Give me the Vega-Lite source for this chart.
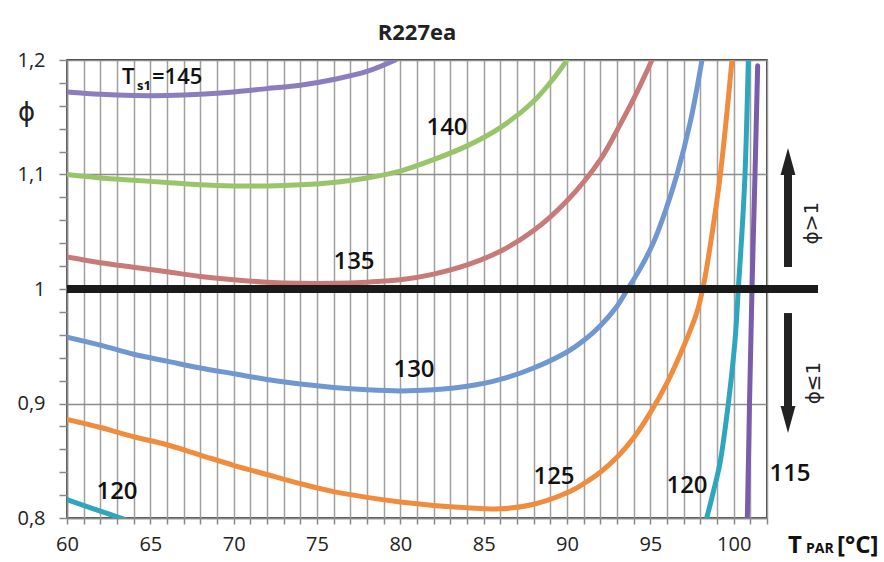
{
  "$schema": "https://vega.github.io/schema/vega-lite/v6.json",
  "width": 700,
  "height": 458,
  "autosize": {"type": "none"},
  "padding": {"left": 67, "top": 60, "right": 117, "bottom": 44},
  "background": "white",
  "config": {"view": {"stroke": "#000", "strokeWidth": 1.5}, "font": "Open Sans, DejaVu Sans"},
  "title": {"text": "R227ea", "fontSize": 22, "fontWeight": "bold", "color": "#222", "anchor": "middle", "baseline": "alphabetic", "offset": 18, "dy": 30, "frame": "group", "font": "Open Sans"},
  "datasets": {
    "curves": [
      {"s":"145","x":60,"y":1.172},{"s":"145","x":62,"y":1.170},{"s":"145","x":64,"y":1.169},{"s":"145","x":66,"y":1.169},{"s":"145","x":68,"y":1.170},{"s":"145","x":70,"y":1.172},{"s":"145","x":72,"y":1.175},{"s":"145","x":74,"y":1.178},{"s":"145","x":76,"y":1.183},{"s":"145","x":78,"y":1.190},{"s":"145","x":79.7,"y":1.2},
      {"s":"140","x":60,"y":1.100},{"s":"140","x":62,"y":1.097},{"s":"140","x":64,"y":1.095},{"s":"140","x":66,"y":1.093},{"s":"140","x":68,"y":1.091},{"s":"140","x":70,"y":1.090},{"s":"140","x":72,"y":1.090},{"s":"140","x":74,"y":1.091},{"s":"140","x":76,"y":1.093},{"s":"140","x":78,"y":1.097},{"s":"140","x":80,"y":1.103},{"s":"140","x":82,"y":1.113},{"s":"140","x":84,"y":1.125},{"s":"140","x":86,"y":1.141},{"s":"140","x":88,"y":1.164},{"s":"140","x":89.2,"y":1.184},{"s":"140","x":90,"y":1.2},
      {"s":"135","x":60,"y":1.028},{"s":"135","x":62,"y":1.023},{"s":"135","x":64,"y":1.019},{"s":"135","x":66,"y":1.015},{"s":"135","x":68,"y":1.011},{"s":"135","x":70,"y":1.008},{"s":"135","x":72,"y":1.006},{"s":"135","x":74,"y":1.005},{"s":"135","x":76,"y":1.005},{"s":"135","x":78,"y":1.006},{"s":"135","x":80,"y":1.008},{"s":"135","x":82,"y":1.013},{"s":"135","x":84,"y":1.021},{"s":"135","x":86,"y":1.033},{"s":"135","x":88,"y":1.051},{"s":"135","x":90,"y":1.077},{"s":"135","x":92,"y":1.113},{"s":"135","x":93.2,"y":1.144},{"s":"135","x":94.2,"y":1.172},{"s":"135","x":95.1,"y":1.2},
      {"s":"130","x":60,"y":0.958},{"s":"130","x":62,"y":0.951},{"s":"130","x":64,"y":0.943},{"s":"130","x":66,"y":0.937},{"s":"130","x":68,"y":0.931},{"s":"130","x":70,"y":0.926},{"s":"130","x":72,"y":0.921},{"s":"130","x":74,"y":0.917},{"s":"130","x":76,"y":0.914},{"s":"130","x":78,"y":0.912},{"s":"130","x":80,"y":0.911},{"s":"130","x":82,"y":0.912},{"s":"130","x":84,"y":0.915},{"s":"130","x":86,"y":0.921},{"s":"130","x":88,"y":0.931},{"s":"130","x":90,"y":0.945},{"s":"130","x":91,"y":0.955},{"s":"130","x":92,"y":0.968},{"s":"130","x":93,"y":0.985},{"s":"130","x":93.6,"y":0.999},{"s":"130","x":94.4,"y":1.018},{"s":"130","x":95.2,"y":1.041},{"s":"130","x":95.9,"y":1.068},{"s":"130","x":96.6,"y":1.100},{"s":"130","x":97.4,"y":1.146},{"s":"130","x":98.1,"y":1.2},
      {"s":"125","x":60,"y":0.886},{"s":"125","x":62,"y":0.879},{"s":"125","x":64,"y":0.871},{"s":"125","x":66,"y":0.864},{"s":"125","x":68,"y":0.855},{"s":"125","x":70,"y":0.846},{"s":"125","x":72,"y":0.838},{"s":"125","x":74,"y":0.830},{"s":"125","x":76,"y":0.823},{"s":"125","x":78,"y":0.818},{"s":"125","x":80,"y":0.814},{"s":"125","x":82,"y":0.811},{"s":"125","x":84,"y":0.809},{"s":"125","x":86,"y":0.808},{"s":"125","x":88,"y":0.812},{"s":"125","x":90,"y":0.822},{"s":"125","x":91,"y":0.830},{"s":"125","x":92,"y":0.840},{"s":"125","x":93,"y":0.853},{"s":"125","x":94,"y":0.870},{"s":"125","x":95,"y":0.892},{"s":"125","x":96,"y":0.918},{"s":"125","x":97,"y":0.950},{"s":"125","x":97.8,"y":0.980},{"s":"125","x":98.2,"y":1.004},{"s":"125","x":98.7,"y":1.048},{"s":"125","x":99.2,"y":1.100},{"s":"125","x":99.9,"y":1.2},
      {"s":"120","x":60,"y":0.816},{"s":"120","x":61,"y":0.811},{"s":"120","x":62,"y":0.806},{"s":"120","x":63,"y":0.801},{"s":"120","x":64,"y":0.796},{"s":"120","x":66,"y":0.786},{"s":"120","x":97.6,"y":0.762},{"s":"120","x":98.38,"y":0.800},{"s":"120","x":98.8,"y":0.824},{"s":"120","x":99.18,"y":0.848},{"s":"120","x":99.68,"y":0.900},{"s":"120","x":100.08,"y":0.955},{"s":"120","x":100.3,"y":1.005},{"s":"120","x":100.5,"y":1.05},{"s":"120","x":100.68,"y":1.10},{"s":"120","x":100.88,"y":1.2},
      {"s":"115","x":100.7,"y":0.75},{"s":"115","x":100.82,"y":0.800},{"s":"115","x":100.95,"y":0.900},{"s":"115","x":101.1,"y":1.000},{"s":"115","x":101.28,"y":1.100},{"s":"115","x":101.44,"y":1.195}
    ]
  },
  "encoding": {
    "x": {"field": "x", "type": "quantitative", "scale": {"domain": [60, 102], "nice": false, "zero": false},
      "axis": {"title": null, "values": [60,61,62,63,64,65,66,67,68,69,70,71,72,73,74,75,76,77,78,79,80,81,82,83,84,85,86,87,88,89,90,91,92,93,94,95,96,97,98,99,100,101,102],
        "labelExpr": "datum.value % 5 == 0 && datum.value <= 100 ? datum.value : ''",
        "labelOverlap": false, "labelBound": false, "labelFlush": false,
        "labelFontSize": 20, "labelColor": "#222", "labelFont": "Open Sans", "labelPadding": 10,
        "tickSize": 6, "tickColor": "#888", "tickWidth": 1.5,
        "domainColor": "#888", "domainWidth": 1.5,
        "grid": true, "gridColor": "#a0a0a0", "gridWidth": 1.5}},
    "y": {"field": "y", "type": "quantitative", "scale": {"domain": [0.8, 1.2], "nice": false, "zero": false},
      "axis": {"title": "ϕ", "titleAngle": 0, "titleX": -41, "titleY": 52, "titleFontSize": 26, "titleFontWeight": "normal", "titleColor": "#222", "titleBaseline": "middle", "titleAlign": "center", "titleFont": "DejaVu Sans",
        "values": [0.8,0.82,0.84,0.86,0.88,0.9,0.92,0.94,0.96,0.98,1,1.02,1.04,1.06,1.08,1.1,1.12,1.14,1.16,1.18,1.2],
        "labelExpr": "abs(datum.value*10 - round(datum.value*10)) < 0.001 ? replace(format(datum.value, '.1~f'), '.', ',') : ''",
        "labelOverlap": false, "labelBound": false, "labelFlush": false,
        "labelFontSize": 20, "labelColor": "#222", "labelFont": "Open Sans", "labelPadding": 14,
        "tickSize": 8, "tickColor": "#888", "tickWidth": 1.5,
        "domainColor": "#888", "domainWidth": 1.5,
        "grid": true, "gridColor": "#8c8c8c", "gridWidth": 1.5,
        "gridOpacity": {"condition": {"test": "abs(datum.value*10 - round(datum.value*10)) < 0.001", "value": 1}, "value": 0}}}
  },
  "layer": [
    {
      "data": {"name": "curves"},
      "mark": {"type": "line", "interpolate": "catmull-rom", "strokeWidth": 5, "clip": true, "strokeCap": "round"},
      "encoding": {
        "color": {"field": "s", "type": "nominal", "legend": null,
          "scale": {"domain": ["145","140","135","130","125","120","115"], "range": ["#8B7DBE","#98C56A","#C77B78","#7097D0","#F08C3E","#2FA6BE","#7B5CAB"]}}
      }
    },
    {
      "data": {"values": [{"x": 60, "x2": 105.06, "y": 1}]},
      "mark": {"type": "rule", "strokeWidth": 8, "color": "#1a1a1a"},
      "encoding": {"x2": {"field": "x2"}}
    },
    {
      "data": {"values": [{"x": 103.26, "y": 1.0192, "y2": 1.0996}, {"x": 103.26, "y": 0.979, "y2": 0.8978}]},
      "mark": {"type": "rule", "strokeWidth": 8, "color": "#222"},
      "encoding": {"y2": {"field": "y2"}}
    },
    {
      "data": {"values": [{"x": 103.26, "y": 1.1114}]},
      "mark": {"type": "point", "shape": "M-0.55,1L0.55,1L0,-1Z", "size": 729, "filled": true, "color": "#222", "opacity": 1}
    },
    {
      "data": {"values": [{"x": 103.26, "y": 0.886}]},
      "mark": {"type": "point", "shape": "M-0.55,-1L0.55,-1L0,1Z", "size": 729, "filled": true, "color": "#222", "opacity": 1}
    },
    {
      "data": {"values": [{"x": 104.7, "y": 1.0576, "t": "ϕ>1"}, {"x": 104.82, "y": 0.9179, "t": "ϕ≤1"}]},
      "mark": {"type": "text", "angle": 270, "fontSize": 20, "color": "#222", "align": "center", "baseline": "middle", "font": "DejaVu Sans"},
      "encoding": {"text": {"field": "t"}}
    },
    {
      "data": {"values": [
        {"x": 82.8, "y": 1.1406, "t": "140"},
        {"x": 77.22, "y": 1.0236, "t": "135"},
        {"x": 80.82, "y": 0.9293, "t": "130"},
        {"x": 89.22, "y": 0.8358, "t": "125"},
        {"x": 97.2, "y": 0.828, "t": "120"},
        {"x": 63.0, "y": 0.8227, "t": "120"},
        {"x": 103.38, "y": 0.8384, "t": "115"}
      ]},
      "mark": {"type": "text", "fontSize": 24, "fontWeight": 600, "color": "#111", "align": "center", "baseline": "middle", "font": "Open Sans"},
      "encoding": {"text": {"field": "t"}}
    },
    {
      "data": {"values": [
        {"x": 63.3, "y": 1.179, "t": "T"},
        {"x": 65.1, "y": 1.179, "t": "=145"}
      ]},
      "mark": {"type": "text", "fontSize": 22, "fontWeight": 600, "color": "#111", "align": "left", "baseline": "alphabetic", "font": "Open Sans"},
      "encoding": {"text": {"field": "t"}}
    },
    {
      "data": {"values": [{"x": 64.2, "y": 1.1738, "t": "s1"}]},
      "mark": {"type": "text", "fontSize": 13, "fontWeight": "bold", "color": "#111", "align": "left", "baseline": "alphabetic", "font": "Open Sans"},
      "encoding": {"text": {"field": "t"}}
    },
    {
      "data": {"values": [
        {"x": 103.26, "y": 0.7694, "t": "T"},
        {"x": 106.2, "y": 0.7694, "t": "[°C]"}
      ]},
      "mark": {"type": "text", "fontSize": 24, "fontWeight": "bold", "color": "#111", "align": "left", "baseline": "alphabetic", "font": "Open Sans"},
      "encoding": {"text": {"field": "t"}}
    },
    {
      "data": {"values": [{"x": 104.34, "y": 0.7694, "t": "PAR"}]},
      "mark": {"type": "text", "fontSize": 14, "fontWeight": "bold", "color": "#111", "align": "left", "baseline": "alphabetic", "font": "Open Sans"},
      "encoding": {"text": {"field": "t"}}
    }
  ]
}
